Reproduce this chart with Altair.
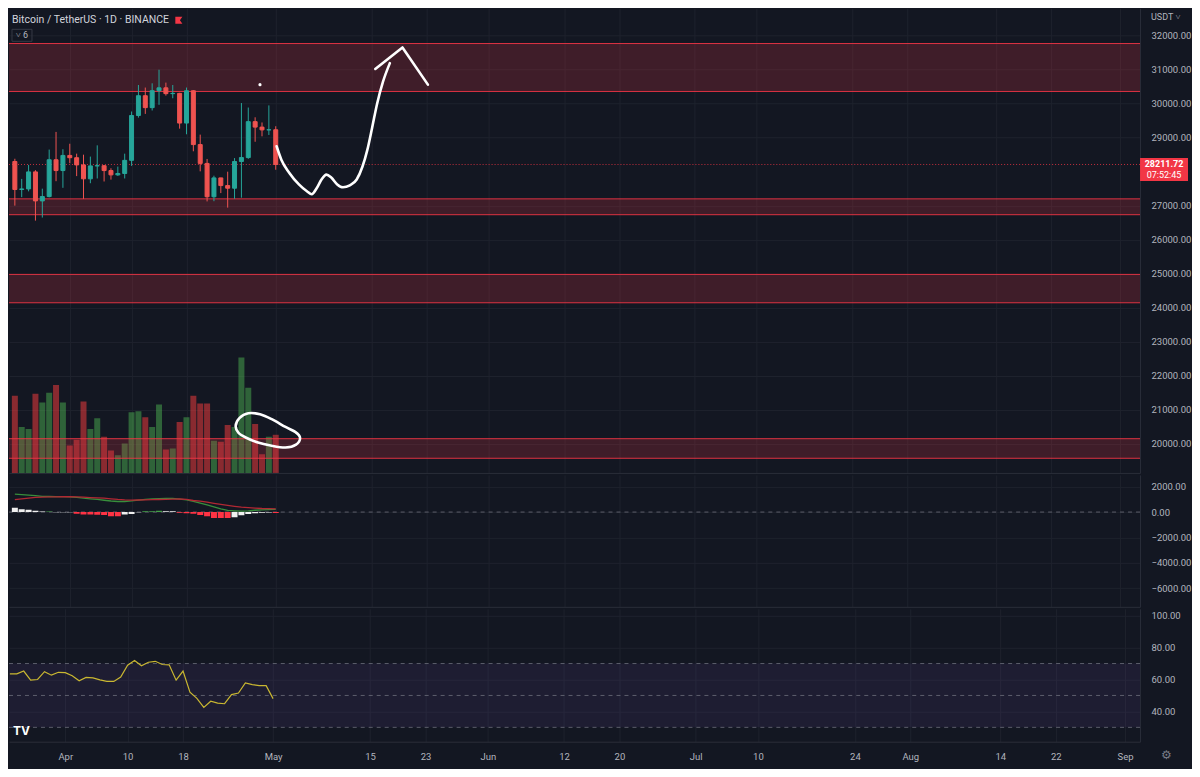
import altair as alt
import pandas as pd

# ---------------- data ----------------
dates = [d.strftime("%Y-%m-%d") for d in pd.date_range("2023-03-24", "2023-05-01", freq="D")]

opens = [28300, 27476, 27493, 27994, 27140, 27268, 28350, 28033, 28478, 28411,
         28199, 27790, 28170, 28176, 28033, 27906, 27947, 28333, 29653, 30235,
         29884, 30383, 30466, 30296, 30304, 29430, 30380, 28797, 28243, 27262,
         27817, 27591, 27514, 28300, 28415, 29472, 29311, 29230, 29233]
highs = [28380, 27787, 28200, 28044, 27500, 28650, 29170, 28660, 28822, 28530,
         28500, 28444, 28775, 28190, 28100, 28150, 28530, 29770, 30550, 30475,
         30600, 31000, 30620, 30550, 30320, 30475, 30400, 29090, 28374, 27882,
         27820, 28000, 28400, 30020, 29887, 29600, 29448, 29950, 29337]
lows = [27000, 27250, 27421, 26560, 26650, 27243, 27720, 27525, 28250, 27870,
        27200, 27660, 27800, 27711, 27766, 27875, 27800, 28170, 29590, 29700,
        29800, 29967, 30238, 30160, 29266, 29100, 28600, 28010, 27125, 27131,
        27370, 26942, 27200, 27235, 28378, 28880, 29040, 29080, 28057]
closes = [27476, 27493, 27994, 27140, 27268, 28350, 28033, 28478, 28411, 28199,
          27790, 28170, 28176, 28033, 27906, 27947, 28333, 29653, 30235, 29884,
          30383, 30466, 30296, 30304, 29430, 30380, 28797, 28243, 27262, 27817,
          27591, 27514, 28300, 28415, 29472, 29311, 29230, 29233, 28211.72]
volumes_k = [79, 47, 45, 81, 72, 82, 90, 72, 28, 34, 73, 45, 56, 37, 23, 18, 30, 62, 63, 57,
             47, 70, 24, 25, 52, 57, 79, 71, 71, 33, 32, 49, 47, 118, 87, 50, 19, 37, 39]

macd_line = [1410, 1370, 1333, 1290, 1240, 1225, 1215, 1210, 1205, 1150, 1090, 1040, 990,
             930, 870, 830, 830, 880, 946, 990, 1030, 1060, 1077, 1075, 1020, 960, 840,
             700, 560, 400, 250, 128, 100, 80, 100, 140, 175, 195, 205]
signal_line = [974, 1040, 1100, 1154, 1175, 1190, 1200, 1205, 1205, 1190, 1170, 1140, 1110,
               1090, 1040, 990, 955, 946, 950, 965, 975, 990, 1005, 1020, 1026, 990, 910,
               860, 780, 690, 600, 520, 450, 390, 350, 310, 280, 265, 256]
histogram = [330, 230, 180, 100, 50, 50, -15, -20, -25, -130, -200, -200, -220, -240, -330,
             -340, -200, -150, -20, 60, 60, 100, 70, 60, -60, -100, -130, -230, -330, -460,
             -460, -460, -400, -250, -150, -100, -60, -40, -80]
hist_kind = ["fade", "fade", "fade", "fade", "fade", "grow", "fade", "fade", "fade", "fall",
             "fall", "fall", "fall", "fall", "fall", "fall", "fade", "fade", "fade", "grow",
             "grow", "grow", "fade", "fade", "fall", "fall", "fall", "fall", "fall", "fall",
             "fall", "fall", "fade", "fade", "fade", "fade", "fade", "fade", "fall"]
rsi = [63.5, 63.5, 65.3, 59.6, 60.0, 64.9, 62.7, 64.5, 64.3, 62.3, 59.2, 61.3, 61.0, 59.8,
       58.8, 58.8, 61.5, 69.0, 71.9, 68.6, 70.8, 71.4, 69.4, 69.2, 59.6, 65.3, 52.1, 48.2,
       42.5, 46.4, 45.2, 44.8, 50.5, 51.5, 57.8, 56.8, 56.1, 56.1, 48.0]

zone_lo = [30360, 26734, 24143, 19568]
zone_hi = [31770, 27200, 24978, 20144]
last_price = 28211.72
countdown = "07:52:45"

price_ticks = [20000, 21000, 22000, 23000, 24000, 25000, 26000, 27000, 29000, 30000,
               31000, 32000]
macd_ticks = [2000, 0, -2000, -4000, -6000]
rsi_ticks = [100, 80, 60, 40]
rsi_levels = [70, 50, 30]

# hand-drawn annotations (date, price)
curve_dates = ["2023-05-01T03:00:00Z", "2023-05-01T20:00:00Z", "2023-05-02T23:00:00Z",
               "2023-05-04T09:00:00Z", "2023-05-05T13:00:00Z", "2023-05-06T06:00:00Z",
               "2023-05-06T23:00:00Z", "2023-05-07T16:00:00Z", "2023-05-08T09:00:00Z",
               "2023-05-09T02:00:00Z", "2023-05-09T23:00:00Z", "2023-05-10T19:00:00Z",
               "2023-05-11T19:00:00Z", "2023-05-12T19:00:00Z", "2023-05-13T15:00:00Z",
               "2023-05-14T08:00:00Z", "2023-05-15T01:00:00Z", "2023-05-15T18:00:00Z",
               "2023-05-16T15:00:00Z", "2023-05-17T15:00:00Z"]
curve_prices = [28748, 28345, 27971, 27626, 27424, 27338, 27511, 27770, 27914, 27827,
                27626, 27540, 27597, 27770, 28144, 28633, 29295, 29986, 30647, 31194]
arrow_dates = ["2023-05-15T12:00:00Z", "2023-05-19T11:00:00Z", "2023-05-23T04:00:00Z"]
arrow_prices = [31022, 31655, 30561]
ellipse_dates = ["2023-04-25T04:00:00Z", "2023-04-25T17:00:00Z", "2023-04-27T00:00:00Z",
                 "2023-04-28T17:00:00Z", "2023-04-30T10:00:00Z", "2023-05-02T10:00:00Z",
                 "2023-05-03T20:00:00Z", "2023-05-04T13:00:00Z", "2023-05-03T23:00:00Z",
                 "2023-05-02T10:00:00Z", "2023-04-30T06:00:00Z", "2023-04-28T10:00:00Z",
                 "2023-04-26T17:00:00Z", "2023-04-25T14:00:00Z"]
ellipse_prices = [20518, 20748, 20892, 20863, 20719, 20489, 20345, 20173, 19971, 19885,
                  19942, 20029, 20173, 20317]
dot_date = ["2023-04-28T17:00:00Z"]
dot_price = [30561]

tick_dates = ["2023-04-01", "2023-04-10", "2023-04-18", "2023-05-01", "2023-05-15",
              "2023-05-23", "2023-06-01", "2023-06-12", "2023-06-20", "2023-07-01",
              "2023-07-10", "2023-07-24", "2023-08-01", "2023-08-14", "2023-08-22",
              "2023-09-01"]

# ---------------- style ----------------
W, AXW = 1132, 52
H_MAIN, H_MACD, H_RSI = 465, 132, 133
BG = "#131722"
GRID = "#1e222d"
SEP = "#2a2e39"
TXT = "#b2b5be"
RED = "#f23645"
UP, DOWN = "#26a69a", "#ef5350"
FONT = "Roboto"

tick_dt = [alt.DateTime(year=int(s[:4]), month=int(s[5:7]), date=int(s[8:]), utc=True)
           for s in tick_dates]


def xscale():
    return alt.Scale(type="utc", domain=[
        alt.DateTime(year=2023, month=3, date=23, hours=21, utc=True),
        alt.DateTime(year=2023, month=9, date=3, hours=4, utc=True)])


ax_hidden = alt.Axis(values=tick_dt, grid=True, gridColor=GRID, labels=False, ticks=False,
                     domain=True, domainColor=SEP, title=None, minExtent=0, maxExtent=0)
ax_bottom = alt.Axis(values=tick_dt, grid=True, gridColor=GRID, ticks=False, domain=True,
                     domainColor=SEP, title=None, minExtent=27, maxExtent=27,
                     labelColor=TXT, labelFontSize=9.5, labelPadding=10, labelFont=FONT,
                     labelExpr="utcFormat(datum.value, '%d') == '01' ? utcFormat(datum.value, '%b') : utcFormat(datum.value, '%-d')")


def yaxis(values):
    return alt.Axis(orient="right", values=values, format=".2f", grid=True, gridColor=GRID,
                    ticks=False, domain=True, domainColor=SEP, labelColor=TXT,
                    labelFontSize=9.5, labelFont=FONT, labelPadding=11, title=None,
                    minExtent=AXW, maxExtent=AXW)


df = pd.DataFrame({"date": dates, "open": opens, "high": highs, "low": lows,
                   "close": closes, "vol": volumes_k, "macd": macd_line,
                   "signal": signal_line, "hist": histogram, "kind": hist_kind, "rsi": rsi})
df["col"] = [UP if c >= o else DOWN for o, c in zip(opens, closes)]
df["vcol"] = ["#4caf50" if c >= o else "#ff3d3d" for o, c in zip(opens, closes)]
hist_colors = {"grow": "#43a047", "fade": "#f0f0f0", "fall": "#ff3344"}
df["hcol"] = [hist_colors[k] for k in hist_kind]

# ---------------- main pane ----------------
X = lambda ax: alt.X("date:T", scale=xscale(), axis=ax)
ps = alt.Scale(domain=[19137, 32806], nice=False, zero=False)
pax = yaxis(price_ticks)

vol_layer = alt.Chart(df).mark_bar(size=6, clip=True, opacity=0.5).encode(
    x=X(ax_hidden),
    y=alt.Y("vol:Q", scale=alt.Scale(domain=[0, 475], nice=False), axis=None),
    color=alt.Color("vcol:N", scale=None))

zones = pd.DataFrame({"lo": zone_lo, "hi": zone_hi})
zone_fill = alt.Chart(zones).mark_rect(color=RED, opacity=0.2).encode(
    x=alt.value(0), x2=alt.value(W), y=alt.Y("lo:Q", scale=ps, axis=pax), y2="hi:Q")
zone_lines = alt.Chart(zones).transform_fold(["lo", "hi"], as_=["k", "p"]).mark_rule(
    color=RED, strokeWidth=1, opacity=0.9).encode(
    x=alt.value(0), x2=alt.value(W), y=alt.Y("p:Q", scale=ps, axis=pax))

last_df = pd.DataFrame({"price": [last_price], "lbl": [f"{last_price:.2f}"], "cd": [countdown]})
last_rule = alt.Chart(last_df).mark_rule(color=RED, strokeDash=[1, 2], opacity=0.8).encode(
    x=alt.value(0), x2=alt.value(W), y=alt.Y("price:Q", scale=ps, axis=pax))

wicks = alt.Chart(df).mark_rule(clip=True, strokeWidth=1).encode(
    x=X(ax_hidden), y=alt.Y("low:Q", scale=ps, axis=pax), y2="high:Q",
    color=alt.Color("col:N", scale=None))
bodies = alt.Chart(df).mark_bar(size=4, clip=True, strokeWidth=1).encode(
    x=X(ax_hidden), y=alt.Y("open:Q", scale=ps, axis=pax), y2="close:Q",
    color=alt.Color("col:N", scale=None), stroke=alt.Stroke("col:N", scale=None))

curve_df = pd.DataFrame({"date": curve_dates, "p": curve_prices, "i": range(len(curve_dates))})
arrow_df = pd.DataFrame({"date": arrow_dates, "p": arrow_prices, "i": range(len(arrow_dates))})
ell_df = pd.DataFrame({"date": ellipse_dates, "p": ellipse_prices, "i": range(len(ellipse_dates))})
dot_df = pd.DataFrame({"date": dot_date, "p": dot_price})

curve = alt.Chart(curve_df).mark_line(color="white", strokeWidth=2.6, interpolate="monotone",
                                      strokeCap="round").encode(
    x=X(ax_hidden), y=alt.Y("p:Q", scale=ps, axis=pax), order="i:Q")
arrow = alt.Chart(arrow_df).mark_line(color="white", strokeWidth=2.6, strokeCap="round",
                                      strokeJoin="round").encode(
    x=X(ax_hidden), y=alt.Y("p:Q", scale=ps, axis=pax), order="i:Q")
ellipse = alt.Chart(ell_df).mark_line(color="white", strokeWidth=2.6,
                                      interpolate="cardinal-closed").encode(
    x=X(ax_hidden), y=alt.Y("p:Q", scale=ps, axis=pax), order="i:Q")
dot = alt.Chart(dot_df).mark_point(color="white", filled=True, size=10, opacity=1).encode(
    x=X(ax_hidden), y=alt.Y("p:Q", scale=ps, axis=pax))

BOX = "M-1,-0.48 L1,-0.48 L1,0.48 L-1,0.48 Z"
price_box = alt.Chart(last_df).mark_point(shape=BOX, size=2304, filled=True, fill=RED,
                                          opacity=1, strokeWidth=0, yOffset=5).encode(
    x=alt.value(W + 24), y=alt.Y("price:Q", scale=ps, axis=pax))
price_t1 = alt.Chart(last_df).mark_text(color="white", fontSize=9, fontWeight="bold",
                                        font=FONT, align="center", baseline="middle",
                                        yOffset=-0.5).encode(
    x=alt.value(W + 24), y=alt.Y("price:Q", scale=ps, axis=pax), text="lbl:N")
price_t2 = alt.Chart(last_df).mark_text(color="white", fontSize=9, font=FONT, align="center",
                                        baseline="middle", yOffset=10.5).encode(
    x=alt.value(W + 24), y=alt.Y("price:Q", scale=ps, axis=pax), text="cd:N")

one = alt.Data(values=[{"t": "Bitcoin / TetherUS · 1D · BINANCE", "u": "USDT ˅", "n": "˅ 6"}])
title_txt = alt.Chart(one).mark_text(color="#d1d4dc", fontSize=10.5, font=FONT, align="left",
                                     baseline="middle").encode(
    x=alt.value(3), y=alt.value(12), text="t:N")
flag = alt.Chart(one).mark_point(shape="M-1,-1 L1,-1 L0.3,0 L1,1 L-1,1 Z", size=50,
                                 filled=True, fill=RED, opacity=1, strokeWidth=0).encode(
    x=alt.value(170), y=alt.value(12))
nbox = alt.Chart(one).mark_point(shape="M-1,-0.6 L1,-0.6 L1,0.6 L-1,0.6 Z", size=400,
                                 filled=False, stroke="#363a45", strokeWidth=1,
                                 opacity=1).encode(x=alt.value(13), y=alt.value(27))
ntxt = alt.Chart(one).mark_text(color=TXT, fontSize=9, font=FONT, align="center",
                                baseline="middle").encode(
    x=alt.value(13), y=alt.value(27), text="n:N")
usdt = alt.Chart(one).mark_text(color=TXT, fontSize=9, font=FONT, align="left",
                                baseline="middle").encode(
    x=alt.value(W + 11), y=alt.value(9), text="u:N")

price_group = alt.layer(zone_fill, zone_lines, last_rule, wicks, bodies, curve, arrow,
                        ellipse, dot, price_box, price_t1, price_t2, title_txt, flag, nbox,
                        ntxt, usdt)
main = alt.layer(vol_layer, price_group).resolve_scale(y="independent").properties(
    width=W, height=H_MAIN)

# ---------------- MACD pane ----------------
ms = alt.Scale(domain=[-7462, 2923], nice=False, zero=False)
max_ = yaxis(macd_ticks)
hist_bars = alt.Chart(df).mark_bar(size=6, clip=True).encode(
    x=X(ax_hidden), y=alt.Y("hist:Q", scale=ms, axis=max_), y2=alt.Y2Datum(0),
    color=alt.Color("hcol:N", scale=None))
zero_rule = alt.Chart(alt.Data(values=[{"z": 0}])).mark_rule(
    color="#787b86", strokeDash=[4, 4], opacity=0.7).encode(
    y=alt.Y("z:Q", scale=ms, axis=max_))
macd_l = alt.Chart(df).mark_line(color="#388e3c", strokeWidth=1.3, clip=True).encode(
    x=X(ax_hidden), y=alt.Y("macd:Q", scale=ms, axis=max_))
sig_l = alt.Chart(df).mark_line(color="#b22833", strokeWidth=1.3, clip=True).encode(
    x=X(ax_hidden), y=alt.Y("signal:Q", scale=ms, axis=max_))
macd = alt.layer(zero_rule, macd_l, sig_l, hist_bars).properties(width=W, height=H_MACD)

# ---------------- RSI pane ----------------
rs = alt.Scale(domain=[21, 104.3], nice=False, zero=False)
rax = yaxis(rsi_ticks)
band = alt.Chart(alt.Data(values=[{"lo": rsi_levels[2], "hi": rsi_levels[0]}])).mark_rect(
    color="#7e57c2", opacity=0.1).encode(
    x=alt.value(0), x2=alt.value(W), y=alt.Y("lo:Q", scale=rs, axis=rax), y2="hi:Q")
levels = alt.Chart(alt.Data(values=[{"v": v} for v in rsi_levels])).mark_rule(
    color="#787b86", strokeDash=[4, 4], opacity=0.7).encode(
    x=alt.value(0), x2=alt.value(W), y=alt.Y("v:Q", scale=rs, axis=rax))
rsi_l = alt.Chart(df).mark_line(color="#c9b731", strokeWidth=1.2, clip=True).encode(
    x=X(ax_bottom), y=alt.Y("rsi:Q", scale=rs, axis=rax))
logo = alt.Chart(alt.Data(values=[{"t": "TV"}])).mark_text(
    color="white", fontSize=12, fontWeight="bold", font="Inter", align="left",
    baseline="middle").encode(x=alt.value(4), y=alt.value(H_RSI - 11), text="t:N")
gear = alt.Chart(alt.Data(values=[{"t": "⚙"}])).mark_text(
    color="#787b86", fontSize=12, align="center", baseline="middle").encode(
    x=alt.value(W + 26), y=alt.value(H_RSI + 13), text="t:N")
rsi_p = alt.layer(band, levels, rsi_l, logo, gear).properties(width=W, height=H_RSI)

chart = alt.vconcat(main, macd, rsi_p, spacing=2).resolve_scale(
    x="independent", y="independent").properties(
    padding=0, background=BG).configure(font=FONT).configure_view(
    strokeWidth=0, stroke="transparent")

chart.save("out.html", embed_options={"renderer": "svg", "actions": False})
